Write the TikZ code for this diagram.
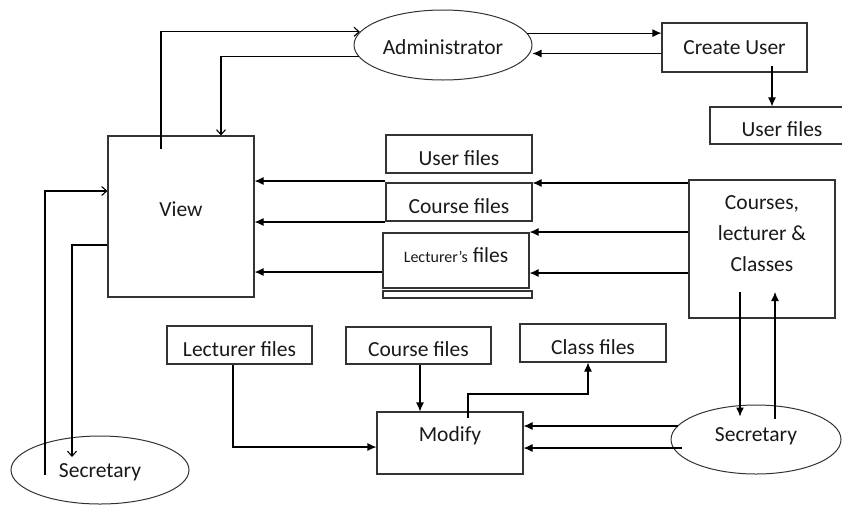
\documentclass[tikz,border=0pt]{standalone}
\usepackage{fontspec}
\setmainfont{Carlito}
\usepackage{tikz}
\usetikzlibrary{shapes.geometric,arrows.meta}

\begin{document}
\begin{tikzpicture}[x=1pt,y=-1pt]

\tikzstyle{box} = [rectangle, draw=black!80, line width=1.1pt, minimum width=146pt, minimum height=38pt, inner sep=0pt, text=black!90, text height=22pt, text depth=0pt, font=\fontsize{21.5}{26}\selectfont]
\tikzstyle{actor} = [ellipse, draw=black!80, line width=1pt, inner sep=0pt, text=black!90, font=\fontsize{21.5}{26}\selectfont]
\tikzstyle{edge} = [-{Latex[length=9pt,width=8pt]}, line width=1.1pt]
\tikzstyle{edge_open} = [-{Straight Barb[length=5pt,width=9pt]}, line width=1.1pt]

\useasboundingbox (0,0) rectangle (842,504);
\clip (0,0) rectangle (842,504);

%------------------------------------------------------------
	\node[actor, minimum width=178pt, minimum height=70pt, text height=18pt, text depth=0pt] (admin) at (443,45) {Administrator};
	\node[box, minimum width=145pt, minimum height=49pt, text height=13pt] (cuser) at (734.5,47.5) {Create User};
	\node[box, minimum width=144pt, minimum height=37pt] (ufilestop) at (782,125.5) {User files};

	\draw[edge] (admin.8) -- (admin.8 -| cuser.west);
	\draw[edge] ([yshift=-6pt]cuser.west) -- ([yshift=-6pt]cuser.west -| admin.east);
	\draw[edge] ([xshift=37.5pt,yshift=7pt]cuser.south) -- ([xshift=37.5pt]cuser.south |- ufilestop.north);

%------------------------------------------------------------
	\node[box, minimum height=161pt, text height=12pt, text depth=13pt] (view) at (181,216.5) {View};
	\node[actor, minimum width=178pt, minimum height=68pt, text height=15pt, text depth=0pt] (secleft) at (100,470) {Secretary};

	\draw[edge_open] ([xshift=-20pt,yshift=-14pt]view.north) |- (admin.171);
	\draw[edge_open] (admin.188) -| ([xshift=40pt]view.north);
	\draw[edge_open] ([xshift=-55pt,yshift=-5pt]secleft.center) |- ([yshift=25.5pt]view.west);
	\draw[edge_open] ([yshift=-28.5pt]view.west) -| ([xshift=-28pt,yshift=13pt]secleft.center);

%------------------------------------------------------------
	\node[box] (ufiles) at (459,154) {User files};
	\node[box] (cfiles) at (459,202) {Course files};
	\node[box, minimum height=55pt, text height=12pt, text depth=9pt] (lfiles) at (456,260.5) {{\fontsize{16}{19}\selectfont Lecturer’s} files};
	\node[box, minimum width=149pt, minimum height=7pt, text height=0pt, text depth=0pt] (lbar) at (457.5,294.5) {};
	\node[box, minimum height=138pt, align=center, text height=76pt, text depth=32pt, font=\fontsize{21.5}{31}\selectfont] (courses) at (762,249) {Courses,\\lecturer \&\\Classes};

	\draw[edge] ([yshift=66pt]courses.west) -- ([yshift=66pt]courses.west -| cfiles.east);
	\draw[edge] ([yshift=17pt]courses.west) -- ([yshift=17pt]courses.west -| lfiles.east);
	\draw[edge] ([yshift=-24pt]courses.west) -- ([yshift=-24pt]courses.west -| lfiles.east);

	\draw[edge] ([yshift=21pt]cfiles.west) -- ([yshift=21pt]cfiles.west -| view.east);
	\draw[edge] ([yshift=-20pt]cfiles.west) -- ([yshift=-20pt]cfiles.west -| view.east);
	\draw[edge] ([yshift=-11.5pt]lfiles.west) -- ([yshift=-11.5pt]lfiles.west -| view.east);

%------------------------------------------------------------
	\node[box, minimum width=145pt] (lecf) at (239.5,345) {Lecturer files};
	\node[box, minimum width=145pt, minimum height=37pt] (coursef) at (418.5,345.5) {Course files};
	\node[box] (classf) at (593,343) {Class files};
	\node[box, minimum height=62pt, text height=12pt, text depth=16pt] (modify) at (450,443) {Modify};
	\node[actor, minimum width=170pt, minimum height=69pt, text depth=9pt] (secright) at (756,439.5) {Secretary};

	\draw[edge] ([xshift=-6.5pt]lecf.south) |- ([yshift=-4pt]modify.west);
	\draw[edge] ([xshift=1.5pt]coursef.south) -- ([xshift=1.5pt]coursef.south |- modify.north);
	\draw[edge] ([xshift=18pt,yshift=25pt]modify.center) -- ++(0,-24) -| ([xshift=-5pt]classf.south);

	\draw[edge] ([xshift=-78pt,yshift=13.5pt]secright.center) coordinate (sr1) -- (sr1 -| modify.east);
	\draw[edge] ([xshift=-74pt,yshift=-8.5pt]secright.center) coordinate (sr2) -- (sr2 -| modify.east);

	\draw[edge] ([xshift=-22pt,yshift=-43pt]courses.center) -- ([xshift=-16pt,yshift=-12pt]secright.north);
	\draw[edge] ([xshift=19pt,yshift=-14pt]secright.north) -- ([xshift=13pt,yshift=-43pt]courses.center);

\end{tikzpicture}
\end{document}
